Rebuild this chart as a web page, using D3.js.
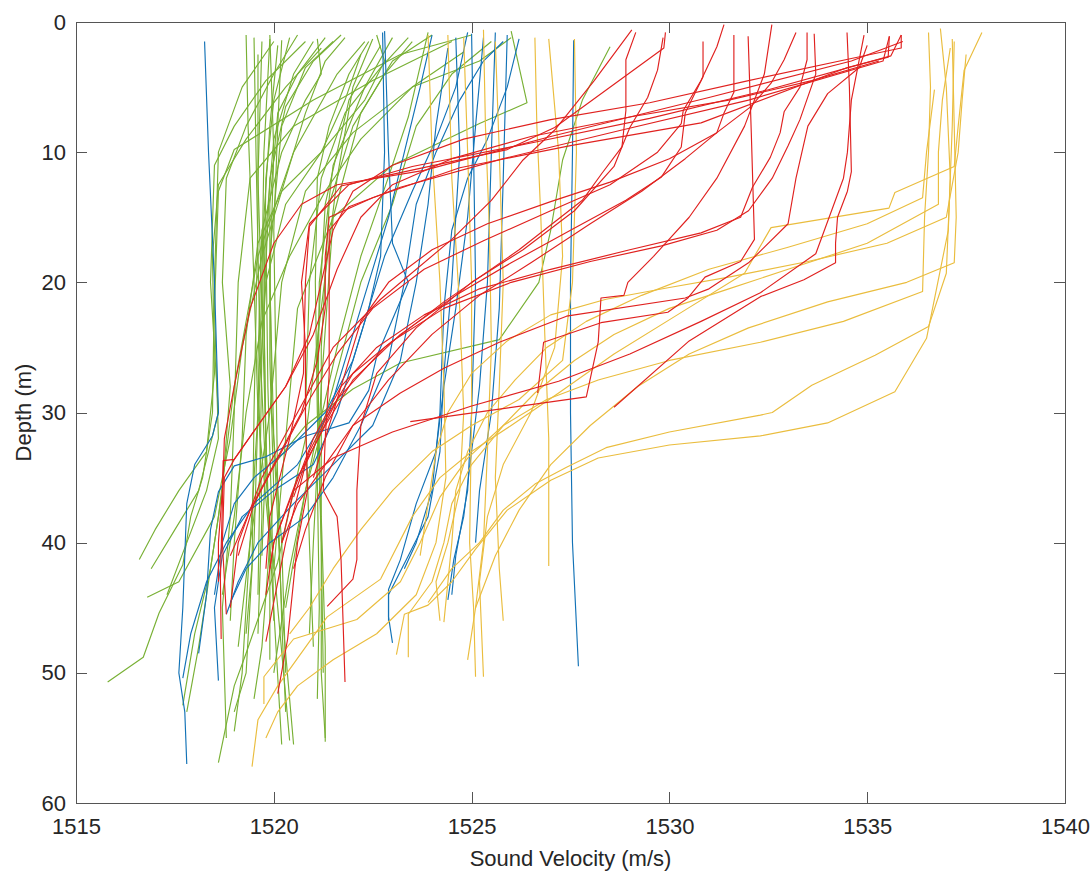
<!DOCTYPE html>
<meta charset="utf-8">
<style>
body { margin: 0; background: #fff; }
svg { font-family: Arial, "Liberation Sans", sans-serif; }
.axis path, .axis line { fill: none; stroke: #555; stroke-width: 1; shape-rendering: crispEdges; }
.axis text { fill: #262626; font-size: 22px; font-family: Arial, "Liberation Sans", sans-serif; }
.profile { fill: none; stroke-width: 1.15; stroke-linejoin: round; }
</style>
<body>
<script src="https://cdn.jsdelivr.net/npm/d3@7"></script>
<script>
// tick values
var xTicks = [1515, 1520, 1525, 1530, 1535, 1540];
var yTicks = [0, 10, 20, 30, 40, 50, 60];

// each profile is a list of [sound velocity (m/s), depth (m)]
var greenProfiles = [
  [[1519.3,1.0],[1519.35,8],[1519.5,20],[1519.6,30],[1519.9,40],[1520.2,55.5]],
  [[1519.5,1.2],[1519.55,10],[1519.65,25],[1519.8,35],[1520.1,45],[1520.4,55.2]],
  [[1519.7,1.5],[1519.6,12],[1519.7,22],[1519.8,32],[1519.9,42],[1519.9,49]],
  [[1519.9,1.3],[1519.75,10],[1519.7,20],[1519.6,30],[1519.5,40],[1519.3,47]],
  [[1520.1,1.8],[1519.9,8],[1519.75,15],[1519.7,25],[1519.65,35],[1519.6,44]],
  [[1520.4,1.2],[1520.0,6],[1519.8,12],[1519.75,22],[1519.8,33],[1519.7,41]],
  [[1521.0,1.5],[1520.5,4],[1520.0,9],[1519.8,16],[1519.85,28],[1519.95,38],[1520.0,46]],
  [[1521.3,1.2],[1520.6,4],[1520.1,7],[1519.9,14],[1519.9,26],[1520.0,36],[1519.7,48],[1519.5,52]],
  [[1521.5,1.5],[1520.8,3.5],[1520.2,8],[1519.9,18],[1519.95,30],[1520.2,40],[1520.3,50]],
  [[1521.7,1.0],[1521.0,3],[1520.3,6.5],[1519.9,12],[1519.75,22],[1519.8,32],[1519.9,40]],
  [[1521.2,2.0],[1520.3,5],[1519.3,9],[1518.6,12.5],[1518.45,18],[1518.5,27],[1518.3,33],[1517.6,36],[1517.0,39],[1516.6,41.3]],
  [[1520.8,1.5],[1519.8,4.5],[1519.0,8],[1518.5,11],[1518.4,20],[1518.6,30],[1518.1,36],[1517.5,39],[1516.9,42]],
  [[1520.0,1.5],[1519.2,5],[1518.6,10],[1518.5,20],[1518.45,30],[1518.2,35],[1517.9,38],[1517.7,41.7],[1517.1,45.4],[1516.7,48.8],[1515.8,50.7]],
  [[1522.3,1.5],[1521.6,4],[1520.5,10],[1519.6,18],[1519.0,28],[1518.6,38],[1518.1,48],[1517.8,53]],
  [[1522.5,1.3],[1522.0,5],[1521.6,12],[1521.2,22],[1520.8,32],[1520.1,41.5],[1519.3,48.5],[1519.0,51],[1518.6,56.9]],
  [[1523.5,1.5],[1522.8,4],[1522.0,8],[1521.4,14],[1521.2,25],[1521.2,38],[1521.3,48],[1521.3,55.3]],
  [[1523.0,1.2],[1522.3,5],[1521.5,11],[1521.15,20],[1521.1,35],[1521.15,45],[1521.1,52]],
  [[1522.7,1.8],[1521.9,6],[1521.3,14],[1521.1,25],[1521.2,40],[1521.25,50]],
  [[1524.0,1.0],[1523.0,3],[1522.2,7],[1521.5,15],[1521.2,28],[1521.0,40],[1520.9,47]],
  [[1525.0,1.0],[1523.2,2.5],[1521.0,6],[1519.0,9.8],[1518.6,13],[1518.5,22],[1518.6,32],[1518.3,36],[1517.8,40],[1517.3,44]],
  [[1524.5,1.5],[1522.5,4.5],[1520.5,8],[1519.4,12],[1519.1,20],[1519.0,30],[1518.9,38],[1518.7,45],[1518.8,55]],
  [[1526.0,1.2],[1525.2,3],[1523.5,5],[1522.0,8.5],[1520.8,13],[1520.2,20],[1519.9,30],[1519.4,40],[1519.1,48]],
  [[1526.0,0.7],[1526.4,6.2],[1525.2,7.8],[1523.0,11],[1521.5,15],[1520.6,22],[1520.3,32],[1520.0,42]],
  [[1523.9,0.8],[1523.4,7.3],[1522.9,11.9],[1522.2,18],[1521.6,25],[1521.0,33],[1520.4,42],[1520.0,50]],
  [[1525.5,1.5],[1524.5,4],[1523.6,8],[1523.0,14],[1522.2,20],[1521.5,28],[1520.8,36],[1520.3,45]],
  [[1528.5,1.9],[1527.8,6],[1527.3,10.6],[1527.0,16],[1526.7,20],[1525.7,24.4],[1523.2,26.2],[1522.0,28.2],[1520.8,31],[1520.0,34]],
  [[1520.6,1.0],[1520.0,4],[1519.3,8],[1518.8,12],[1518.7,20],[1518.9,28],[1518.7,36],[1518.4,42],[1518.0,47],[1517.7,52.5]],
  [[1521.8,1.2],[1521.3,3],[1520.8,7],[1520.3,12],[1519.7,18],[1519.2,25],[1518.9,32],[1518.5,38],[1517.6,43],[1516.8,44.2]],
  [[1522.2,2.5],[1521.8,6],[1521.2,10],[1520.2,13],[1519.6,17],[1519.3,24],[1519.2,32],[1519.0,40],[1518.9,46]],
  [[1520.2,1.4],[1520.1,8],[1520.0,16],[1520.05,26],[1520.1,36],[1520.2,46],[1520.3,53]],
  [[1519.9,1.0],[1520.0,10],[1519.9,20],[1520.0,32],[1520.2,45],[1520.5,55.5]],
  [[1519.6,2.5],[1519.6,15],[1519.5,30],[1519.45,42],[1519.3,50],[1519.0,53]],
  [[1521.1,1.3],[1521.2,4],[1520.8,6],[1520.2,10],[1519.7,16],[1519.6,26],[1519.7,38],[1519.6,47]],
  [[1522.6,1.0],[1522.8,3],[1522.3,6],[1521.2,10],[1520.3,14],[1519.8,20],[1519.6,30],[1519.4,40],[1519.2,50],[1519.0,54.5]],
  [[1524.8,2.3],[1523.5,5],[1522.2,9],[1521.3,13],[1520.4,18],[1519.7,23],[1519.3,30],[1519.0,38],[1518.7,44]],
  [[1522.4,1.5],[1521.9,4],[1521.4,8],[1521.1,12],[1521.05,20],[1521.1,30],[1521.2,40],[1521.2,50],[1521.3,55]],
  [[1523.4,1.2],[1522.7,3.5],[1521.8,7],[1521.2,12],[1520.9,20],[1520.8,30],[1520.9,40],[1521.0,48]]
];

var blueProfiles = [
  [[1518.25,1.5],[1518.35,10],[1518.5,20],[1518.6,30],[1518.45,31.8],[1518.0,34],[1517.8,37],[1517.7,45],[1517.6,50],[1517.75,53],[1517.8,57]],
  [[1522.8,0.7],[1522.9,10],[1523.0,17],[1523.4,20],[1522.6,25.7],[1522.4,28.3],[1521.9,30.8],[1520.8,31.8],[1519.8,33.4],[1519.0,34.1],[1518.6,36.1],[1518.4,39],[1518.3,44],[1518.1,48.5]],
  [[1524.0,1.0],[1523.7,5],[1523.3,10],[1522.9,15],[1522.4,20],[1521.9,25],[1521.4,30],[1520.6,34],[1519.5,37],[1518.8,40],[1518.3,43],[1517.9,47],[1517.7,50.4]],
  [[1524.9,0.8],[1524.6,5],[1524.1,9],[1523.5,13],[1522.8,18],[1522.2,24],[1521.6,30],[1521.0,34],[1520.0,36],[1519.2,38],[1518.7,41],[1518.5,45],[1518.6,50.6]],
  [[1525.3,1.2],[1525.1,8],[1524.9,15],[1524.6,22],[1524.3,28],[1524.1,33],[1523.6,37],[1523.2,41.3],[1522.9,43.6],[1522.9,45.7],[1523.0,47.7]],
  [[1525.6,0.8],[1525.5,10],[1525.4,20],[1525.2,28],[1525.0,33],[1524.8,38],[1524.55,41.3],[1524.4,44.4]],
  [[1525.0,0.9],[1525.05,10],[1525.1,20],[1525.0,30],[1524.9,36],[1524.6,41],[1524.5,44]],
  [[1525.9,1.0],[1525.8,12],[1525.7,22],[1525.5,30],[1525.2,36],[1525.1,40]],
  [[1524.4,2.0],[1524.1,8],[1523.9,14],[1523.6,20],[1523.2,26],[1522.5,31],[1521.5,34],[1520.5,37],[1519.6,40],[1519.1,43],[1518.8,45.5]],
  [[1527.58,1.4],[1527.55,10],[1527.5,20],[1527.5,30],[1527.55,40],[1527.7,49.5]],
  [[1522.75,0.8],[1522.8,10],[1522.7,18],[1522.4,22],[1522.0,26],[1521.3,30],[1520.3,33],[1519.5,35],[1519.0,37],[1518.7,40],[1518.5,44]],
  [[1526.2,1.3],[1525.9,5],[1525.4,9],[1524.9,12],[1524.5,16],[1524.3,22],[1524.2,30],[1524.0,36],[1523.6,40],[1523.3,42]],
  [[1525.8,1.5],[1525.3,3],[1524.7,6],[1524.1,10],[1523.6,14],[1523.3,20],[1522.9,26],[1522.2,31],[1521.5,35],[1520.8,38],[1519.9,40],[1519.3,42],[1518.9,44.6]],
  [[1524.6,1.2],[1524.7,10],[1524.5,20],[1524.3,27],[1524.2,33],[1523.9,38],[1523.4,41],[1522.9,44],[1522.9,46]]
];

var yellowProfiles = [
  [[1537.9,0.8],[1537.45,3.7],[1537.3,8],[1537.2,11.1],[1535.7,13.1],[1535.55,14.3],[1532.57,15.8],[1531.9,19.3],[1530.2,22.5],[1528.6,25.5],[1527.2,28.5],[1526.0,31],[1525.0,33],[1524.2,35],[1523.5,38],[1522.7,42.8],[1521.35,45.7],[1520.1,51],[1519.6,53.6],[1519.45,57.2]],
  [[1536.55,0.8],[1536.6,5],[1536.55,10],[1536.45,15],[1536.4,20.7],[1534.4,23],[1532.3,24.6],[1530.0,26],[1528.2,27.5],[1526.9,29],[1525.8,31],[1524.9,33.5],[1524.2,36.5],[1523.7,40],[1523.2,43],[1522.1,45.9],[1520.5,47.4],[1519.75,50.3],[1519.75,52.4]],
  [[1536.85,0.5],[1537.0,5],[1537.1,12],[1537.0,19.3],[1536.55,23.4],[1535.2,25.6],[1533.6,27.9],[1532.6,30],[1532.3,30.2],[1530.0,31.5],[1528.4,32.7],[1527.4,34.2],[1526.6,35.5],[1525.8,37.5],[1525.2,40],[1524.5,42],[1523.9,44.6]],
  [[1537.2,1.5],[1537.15,8],[1537.05,16],[1536.5,24.3],[1535.7,28.4],[1534.0,30.8],[1532.3,31.8],[1530.0,32.5],[1528.2,33.5],[1527.0,35.2],[1525.9,37.5],[1525.1,40.5],[1524.5,43],[1523.9,44.8],[1523.3,45.5],[1523.1,48.6]],
  [[1537.1,2.0],[1536.9,6],[1536.8,10],[1536.8,14],[1535.0,17],[1533.0,19],[1531.5,20.5],[1530.0,22],[1528.6,24],[1527.6,26],[1526.6,28.5],[1525.8,31],[1525.0,34],[1524.5,37],[1524.3,40],[1524.0,43],[1523.4,45.5],[1523.4,48.8]],
  [[1536.7,5.2],[1536.5,10],[1536.4,13.5],[1535.0,15.5],[1533.0,17.3],[1531.0,19],[1529.3,21],[1527.9,23],[1526.9,25],[1526.1,27.5],[1525.4,30],[1524.9,33],[1524.6,36],[1524.5,40],[1524.3,46.1]],
  [[1526.6,1.2],[1526.65,8],[1526.75,15],[1526.85,24],[1526.95,32],[1526.95,41.8]],
  [[1526.95,1.3],[1527.2,10],[1527.3,18],[1527.1,25],[1526.5,30],[1525.8,34],[1525.4,38],[1525.2,43],[1525.3,50.3]],
  [[1524.8,1.2],[1524.9,10],[1525.0,20],[1525.0,30],[1524.95,40],[1525.05,45],[1525.1,50.3]],
  [[1523.9,1.0],[1524.0,10],[1524.2,20],[1524.3,28],[1524.35,35],[1524.1,40],[1523.6,44],[1522.6,47],[1521.5,49],[1520.6,51],[1520.1,53],[1519.8,55]],
  [[1524.4,1.0],[1524.5,12],[1524.7,22],[1524.8,30],[1524.7,36],[1524.4,40],[1524.1,43],[1524.2,46]],
  [[1525.3,0.6],[1525.35,8],[1525.45,16],[1525.5,25],[1525.4,33],[1525.3,40],[1525.1,45],[1524.9,49]],
  [[1525.6,1.5],[1525.7,10],[1525.8,20],[1525.7,28],[1525.6,35],[1525.7,42],[1525.8,46]],
  [[1527.6,1.3],[1527.65,10],[1527.55,20],[1527.3,26],[1526.2,29],[1525.0,31],[1524.0,33],[1523.0,36],[1522.2,39],[1521.5,42],[1520.9,45],[1520.4,47]],
  [[1537.15,1.3],[1537.2,8],[1537.25,15],[1537.2,18.5],[1536.0,20],[1534.0,21.5],[1532.0,23.5],[1530.5,25.5],[1529.2,28],[1528.0,31],[1527.0,34],[1526.2,37.5],[1525.6,41],[1525.1,45]],
  [[1537.5,2.5],[1537.4,6],[1537.3,10],[1537.0,15],[1535.5,17],[1533.5,18.4],[1531.5,19.6],[1530.0,20.4],[1528.4,21.3],[1527.0,22.5],[1525.9,24.5],[1525.0,27],[1524.4,30],[1524.1,33],[1523.9,37],[1523.7,41]]
];

var redProfiles = [
  [[1529.05,0.6],[1528.1,4.5],[1527.1,8.3],[1526.3,10.6],[1525.5,13.7],[1524.5,16.7],[1522.7,21.3],[1521.5,25],[1520.6,30],[1519.7,35],[1519.1,40],[1518.9,45]],
  [[1529.15,0.8],[1528.9,2.9],[1528.9,6.8],[1528.8,9.6],[1528.3,11.6],[1527.8,13.7],[1526.2,17.5],[1524.3,21.5],[1522.8,25],[1521.6,29],[1520.8,34],[1520.3,40],[1519.8,47.6]],
  [[1529.9,0.8],[1529.86,2],[1527.1,8.1],[1525.9,9.8],[1522.7,11.9],[1521.7,12.6],[1520.9,15.7],[1520.8,20],[1520.75,27],[1520.4,32],[1519.9,38],[1519.8,42]],
  [[1529.84,1.2],[1529.7,3.7],[1529.45,5.8],[1529.0,8.1],[1528.6,11.1],[1527.6,14.5],[1526.3,17.5],[1525.0,20],[1523.6,23.5],[1522.6,27],[1522.2,31],[1522.1,36],[1522.1,41.3],[1522.0,42.8],[1521.35,44.9]],
  [[1535.86,1.0],[1535.6,2.6],[1532.5,5.2],[1529.5,7.4],[1526.5,9.3],[1523.5,11.1],[1521.9,12.5],[1520.9,15.5],[1520.7,20],[1520.8,25],[1520.8,30],[1520.85,36],[1520.6,40],[1520.35,47.4],[1520.1,51.6]],
  [[1535.56,1.1],[1535.4,3],[1532.0,6],[1528.8,8.3],[1525.8,10.5],[1523.2,12.7],[1521.9,14.2],[1521.4,16],[1521.4,20],[1521.4,27],[1521.3,32],[1521.25,36],[1521.6,38],[1521.7,41.3],[1521.8,50.7]],
  [[1535.9,1.5],[1534.6,3],[1531.0,5.8],[1527.0,8.8],[1523.8,11.4],[1521.6,12.5],[1520.7,14],[1520.0,17],[1519.4,22],[1519.0,28],[1518.75,32],[1518.7,37],[1518.65,42.8],[1518.67,47.4]],
  [[1534.49,0.8],[1534.55,5],[1534.6,11.5],[1534.5,13],[1534.25,15],[1534.2,17],[1534.2,18.5],[1533.4,19.8],[1532.3,21.1],[1530.5,24.5],[1528.6,29.6]],
  [[1534.92,1.0],[1534.6,6],[1534.5,10],[1534.4,12],[1533.7,17.8],[1532.3,20.8],[1530.8,23],[1529.0,25.5],[1527.2,27.6],[1525.0,29.5],[1523.0,31.5],[1521.5,33.5],[1520.5,36],[1520.0,40],[1519.9,42]],
  [[1531.99,1.1],[1532.07,8.5],[1532.15,16.7],[1531.8,18.4],[1530.9,19.6],[1530.47,21.2],[1529.96,22.3],[1528.27,23.1],[1526.82,24.6],[1526.67,28.5]],
  [[1532.59,0.2],[1532.4,4],[1531.9,8],[1531.2,12],[1530.5,15],[1529.6,18],[1528.95,20],[1528.85,21],[1528.27,21.2],[1528.2,24.6],[1527.9,28.8],[1523.45,30.7]],
  [[1535.3,3.0],[1533.6,4.5],[1531.5,6],[1529.0,7.3],[1526.5,8.8],[1524.5,10.5],[1523.0,12.5],[1522.2,15],[1521.6,19],[1521.0,24],[1520.3,28],[1519.6,31],[1519.0,33.6],[1518.75,35],[1518.7,40],[1518.8,45.5]],
  [[1530.85,1.5],[1530.85,4.2],[1530.4,7],[1530.3,9.6],[1529.8,11.9],[1528.9,13.7],[1527.5,16],[1526.0,18.5],[1524.6,21],[1523.2,24],[1522.0,27.5],[1521.3,31],[1520.6,35],[1520.0,40],[1519.8,44]],
  [[1531.38,0.2],[1531.2,1.9],[1530.8,4.5],[1530.35,6.8],[1530.3,7.8],[1529.7,10],[1528.5,12.5],[1527.0,14.5],[1525.3,16.8],[1523.8,19],[1522.5,22],[1521.6,25.5],[1520.9,29],[1520.2,33],[1519.5,37],[1519.1,41]],
  [[1531.63,1.0],[1531.63,5.4],[1531.38,7],[1531.2,8.5],[1530.4,10.5],[1529.3,13],[1528.0,15.5],[1526.5,18.5],[1525.2,21],[1524.0,24],[1522.9,27.5],[1522.0,31],[1521.3,35],[1520.8,39],[1520.5,42]],
  [[1533.48,0.8],[1533.48,2.9],[1533.3,5],[1532.9,6.9],[1532.8,8.5],[1532.55,10.4],[1532.1,12.7],[1531.8,15],[1530.8,16.2],[1529.0,17.5],[1527.0,19],[1525.2,20.5],[1523.8,22.5],[1522.6,25],[1521.7,28],[1521.0,32],[1520.5,36],[1520.2,40]],
  [[1533.66,0.9],[1533.7,4],[1533.3,7.5],[1533.0,9.5],[1532.6,12],[1532.0,14.5],[1531.2,16],[1529.8,17.2],[1528.0,18.4],[1526.0,20],[1524.3,22],[1523.0,24.5],[1522.0,27],[1521.4,30],[1520.9,33],[1520.5,36.5]],
  [[1533.2,0.8],[1532.9,2.9],[1532.57,4.7],[1532.06,6.5],[1531.2,8.5],[1530.0,10.5],[1528.5,12.3],[1527.0,13.8],[1525.4,15.5],[1524.0,17.5],[1522.9,20],[1522.2,23],[1521.8,27],[1521.4,31],[1521.0,35]],
  [[1535.56,1.1],[1535.53,2.7],[1534.5,3.5],[1530.8,7.75],[1527.5,9.5],[1524.7,11.2],[1522.5,13.5],[1521.4,15],[1521.3,18],[1521.3,22],[1521.1,26],[1520.7,30],[1520.0,34],[1519.4,37.5],[1518.9,41]],
  [[1535.86,1.0],[1535.86,2.0],[1534.6,2.8],[1532.0,4.5],[1529.5,6.2],[1527.0,7.5],[1524.8,9],[1523.0,11],[1522.0,13],[1521.5,16],[1521.2,20],[1520.9,24],[1520.3,28],[1519.6,31],[1519.0,33.6],[1518.72,33.7],[1518.7,36],[1518.6,40],[1518.6,43]],
  [[1535.0,1.8],[1534.8,3.5],[1534.0,5.5],[1533.5,8],[1533.2,12],[1533.0,15.5],[1532.0,18.5],[1531.0,20.5],[1530.4,21.2],[1527.4,22.6],[1525.7,24.6],[1524.3,26.6],[1523.2,28.5],[1522.0,31],[1521.3,34],[1520.6,37],[1520.2,40]]
];

var groups = [
  {color: "#78b034", data: greenProfiles},
  {color: "#1272b6", data: blueProfiles},
  {color: "#eabd3e", data: yellowProfiles},
  {color: "#e0211f", data: redProfiles}
];

var width = 1092, height = 872;
var margin = {top: 22, right: 27, bottom: 69, left: 76};
var plotRight = width - margin.right,
    plotBottom = height - margin.bottom;

var svg = d3.select("body").append("svg")
    .attr("width", width)
    .attr("height", height);

var x = d3.scaleLinear().domain([1515, 1540]).range([margin.left, plotRight]);
var y = d3.scaleLinear().domain([0, 60]).range([margin.top, plotBottom]);

var line = d3.line()
    .x(function(d) { return x(d[0]); })
    .y(function(d) { return y(d[1]); });

var plot = svg.append("g");

groups.forEach(function(g) {
  plot.selectAll(null)
      .data(g.data)
    .enter().append("path")
      .attr("class", "profile")
      .attr("stroke", g.color)
      .attr("d", line);
});

var fmt = d3.format("d");

// box with inward ticks on all four sides
svg.append("g")
    .attr("class", "axis")
    .attr("transform", "translate(0," + plotBottom + ")")
    .call(d3.axisBottom(x).tickValues(xTicks).tickFormat(fmt).tickSizeInner(-11).tickSizeOuter(0).tickPadding(15));

svg.append("g")
    .attr("class", "axis")
    .attr("transform", "translate(0," + margin.top + ")")
    .call(d3.axisTop(x).tickValues(xTicks).tickSizeInner(-11).tickSizeOuter(0).tickFormat(""));

svg.append("g")
    .attr("class", "axis")
    .attr("transform", "translate(" + margin.left + ",0)")
    .call(d3.axisLeft(y).tickValues(yTicks).tickFormat(fmt).tickSizeInner(-11).tickSizeOuter(0).tickPadding(10));

svg.append("g")
    .attr("class", "axis")
    .attr("transform", "translate(" + plotRight + ",0)")
    .call(d3.axisRight(y).tickValues(yTicks).tickSizeInner(-11).tickSizeOuter(0).tickFormat(""));

svg.append("text")
    .attr("x", (margin.left + plotRight) / 2)
    .attr("y", 866)
    .attr("text-anchor", "middle")
    .style("font-size", "22px")
    .style("fill", "#262626")
    .text("Sound Velocity (m/s)");

svg.append("text")
    .attr("transform", "translate(31," + ((margin.top + plotBottom) / 2) + ") rotate(-90)")
    .attr("text-anchor", "middle")
    .style("font-size", "22px")
    .style("fill", "#262626")
    .text("Depth (m)");
</script>
